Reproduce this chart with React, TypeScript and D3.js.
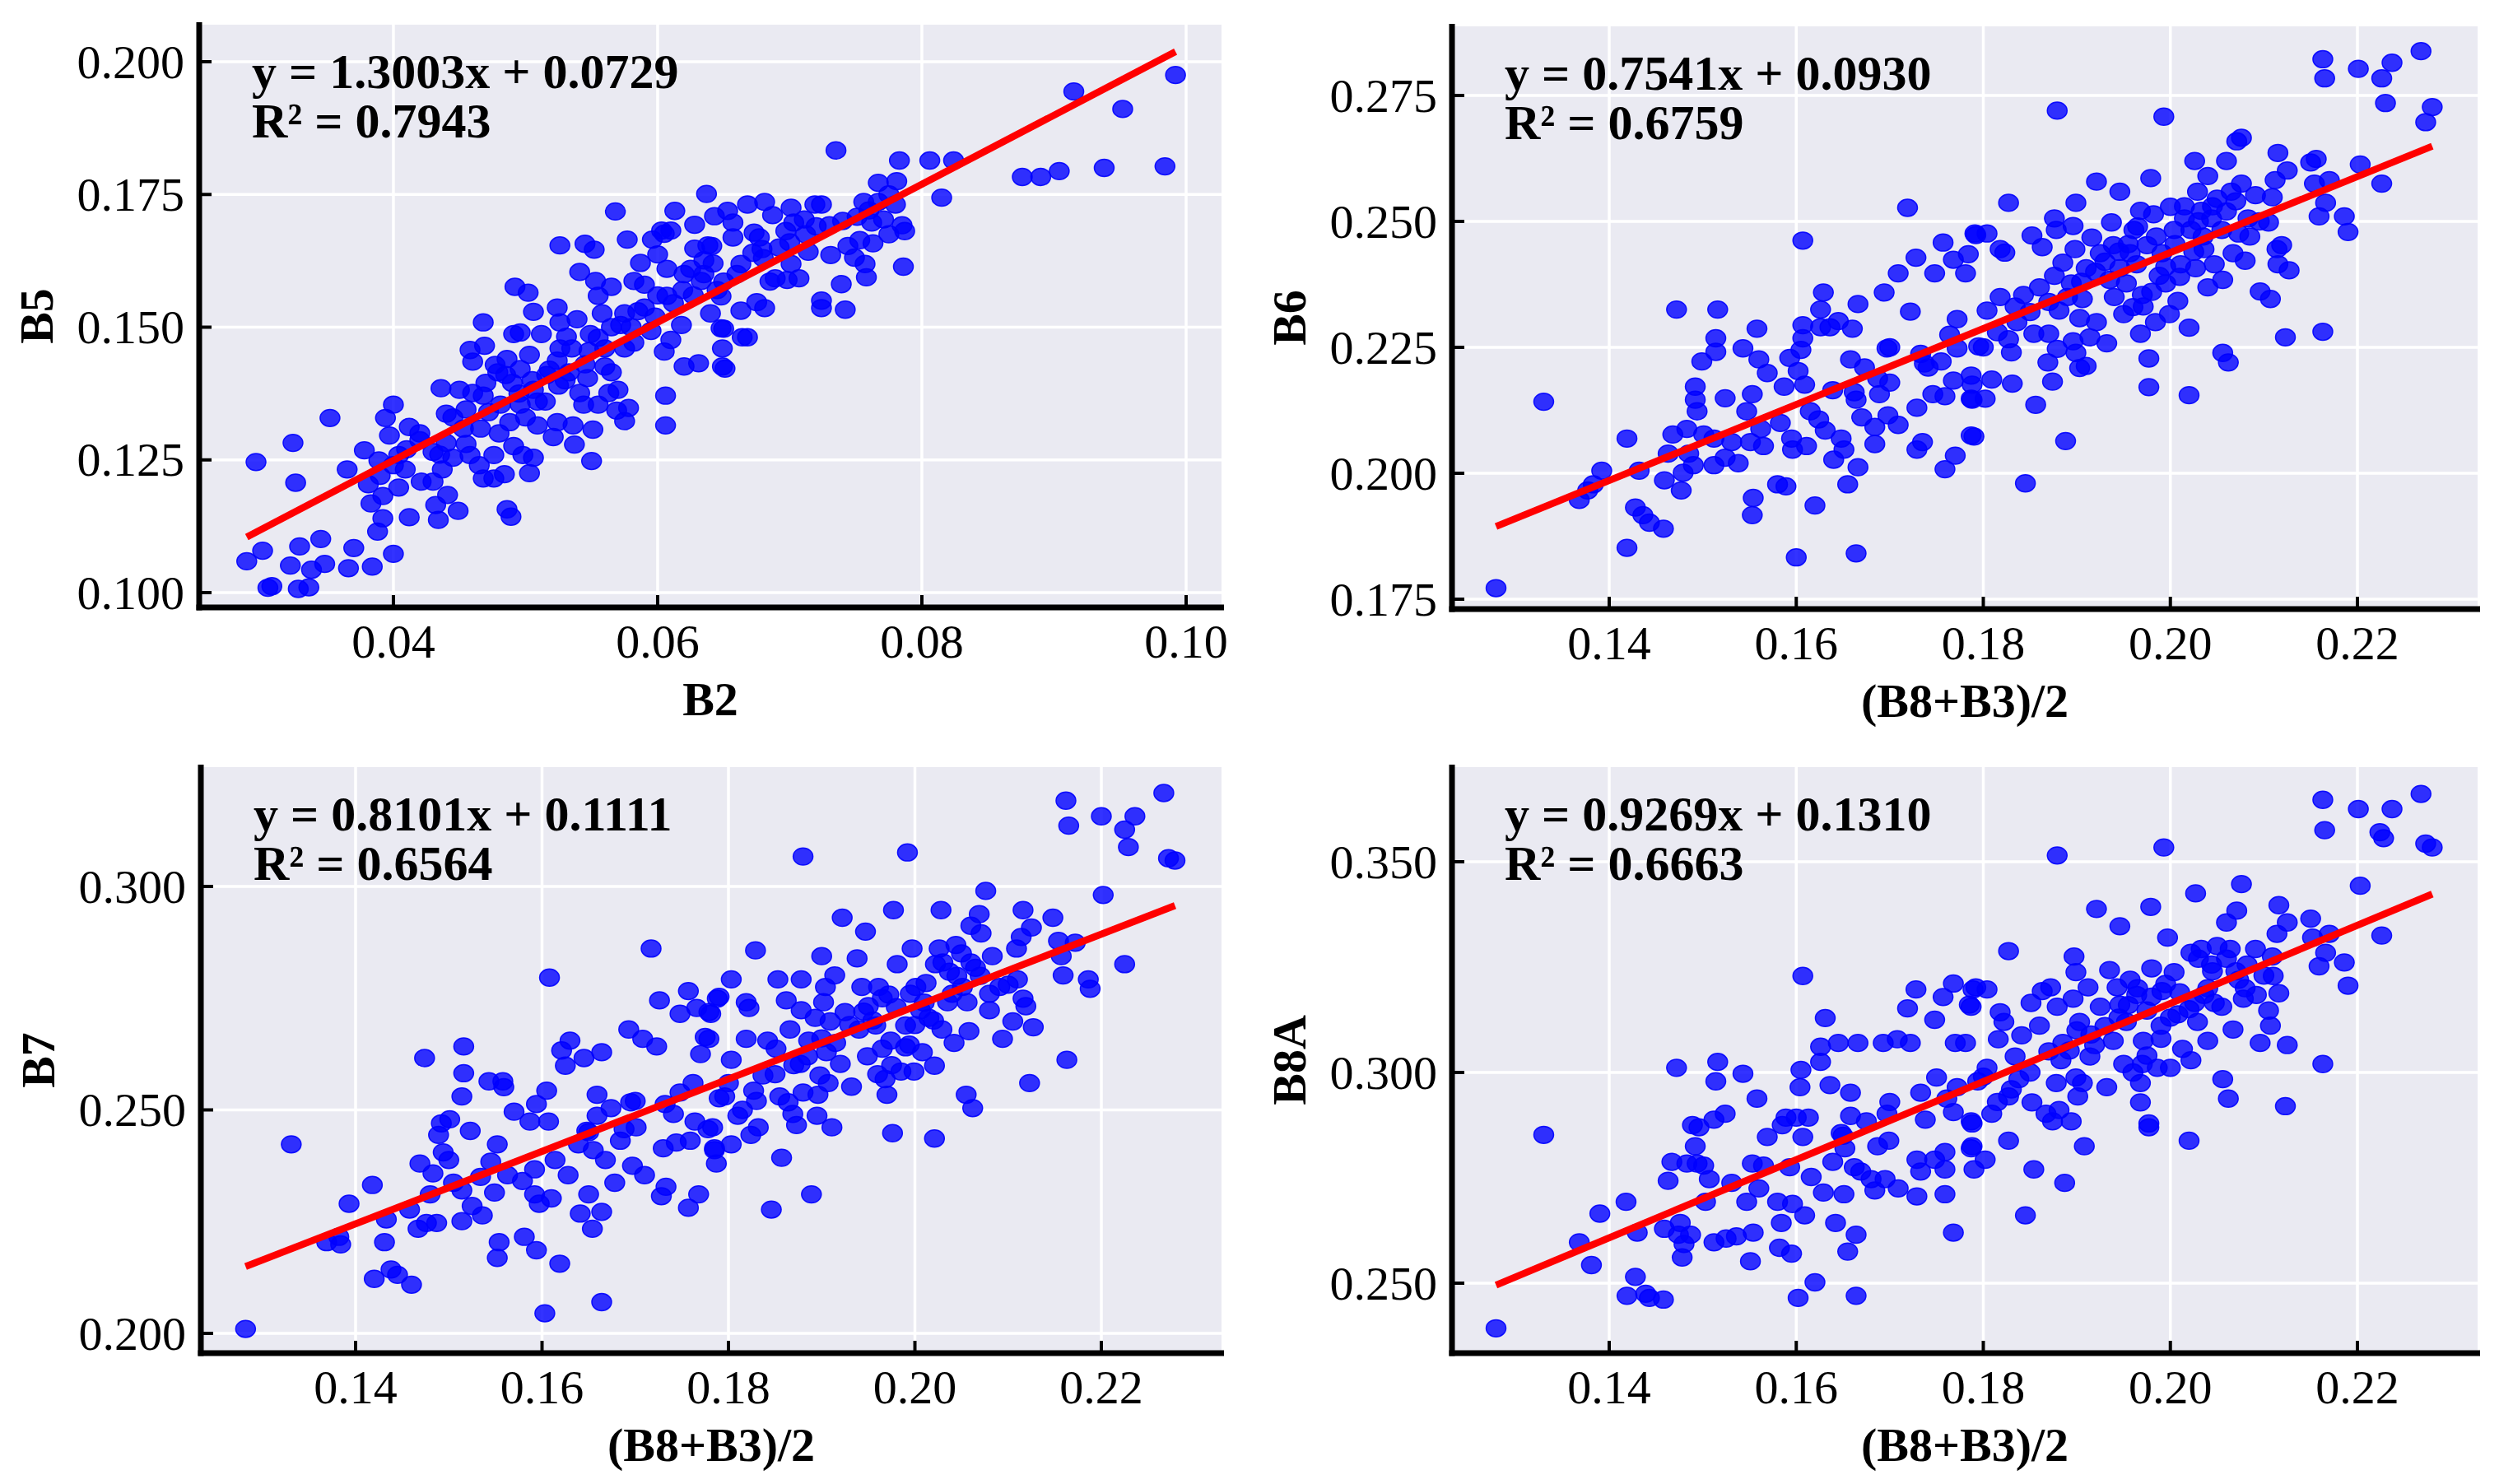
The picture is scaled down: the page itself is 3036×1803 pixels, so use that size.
import React, { useEffect } from 'react';
import * as d3 from 'd3';

type Pt = [number, number];

// B2 vs B5
const b5Points: Pt[] = [
  [0.0289,0.1059],[0.0301,0.1079],[0.0296,0.1246],[0.0305,0.1009],[0.0308,0.1012],[0.0324,0.1282],[0.0326,0.1207],[0.0322,0.1051],
  [0.0329,0.1087],[0.0328,0.1007],[0.0336,0.1010],[0.0338,0.1043],[0.0345,0.1101],[0.0348,0.1054],[0.0352,0.1329],[0.0366,0.1046],
  [0.0370,0.1084],[0.0384,0.1049],[0.0400,0.1073],[0.0365,0.1232],[0.0378,0.1268],[0.0381,0.1204],[0.0389,0.1249],[0.0392,0.1182],
  [0.0383,0.1168],[0.0392,0.1140],[0.0388,0.1115],[0.0404,0.1198],[0.0412,0.1142],[0.0397,0.1296],[0.0394,0.1329],[0.0400,0.1354],
  [0.0404,0.1259],[0.0409,0.1232],[0.0412,0.1312],[0.0420,0.1287],[0.0421,0.1209],[0.0430,0.1209],[0.0430,0.1265],[0.0432,0.1165],
  [0.0434,0.1137],[0.0441,0.1184],[0.0449,0.1154],[0.0437,0.1232],[0.0440,0.1282],[0.0440,0.1337],[0.0436,0.1385],[0.0450,0.1382],
  [0.0460,0.1376],[0.0453,0.1309],[0.0458,0.1259],[0.0445,0.1254],[0.0458,0.1457],[0.0460,0.1435],[0.0468,0.1509],[0.0469,0.1465],
  [0.0468,0.1371],[0.0466,0.1309],[0.0468,0.1215],[0.0476,0.1215],[0.0484,0.1223],[0.0476,0.1259],[0.0477,0.1429],[0.0479,0.1415],
  [0.0486,0.1440],[0.0491,0.1487],[0.0496,0.1490],[0.0492,0.1576],[0.0502,0.1565],[0.0506,0.1529],[0.0481,0.1354],[0.0488,0.1321],
  [0.0496,0.1354],[0.0486,0.1157],[0.0489,0.1143],[0.0491,0.1276],[0.0498,0.1259],[0.0503,0.1225],[0.0506,0.1254],[0.0506,0.1382],
  [0.0509,0.1360],[0.0496,0.1421],[0.0503,0.1448],[0.0512,0.1487],[0.0509,0.1315],[0.0521,0.1293],[0.0524,0.1321],[0.0516,0.1410],
  [0.0524,0.1437],[0.0526,0.1460],[0.0524,0.1537],[0.0526,0.1654],[0.0526,0.1509],[0.0531,0.1482],[0.0533,0.1415],[0.0536,0.1315],
  [0.0537,0.1279],[0.0539,0.1515],[0.0541,0.1604],[0.0545,0.1657],[0.0552,0.1646],[0.0547,0.1404],[0.0541,0.1376],[0.0544,0.1354],
  [0.0549,0.1487],[0.0550,0.1248],[0.0551,0.1307],[0.0553,0.1587],[0.0555,0.1354],[0.0555,0.1559],[0.0558,0.1526],[0.0560,0.1426],
  [0.0563,0.1376],[0.0565,0.1576],[0.0565,0.1415],[0.0568,0.1718],[0.0570,0.1382],[0.0569,0.1343],[0.0575,0.1323],[0.0578,0.1348],
  [0.0572,0.1504],[0.0577,0.1665],[0.0575,0.1526],[0.0582,0.1587],[0.0582,0.1471],[0.0587,0.1621],[0.0590,0.1537],[0.0595,0.1493],
  [0.0596,0.1665],[0.0600,0.1637],[0.0603,0.1682],[0.0605,0.1676],[0.0610,0.1682],[0.0606,0.1371],[0.0606,0.1315],[0.0607,0.1610],
  [0.0607,0.1559],[0.0605,0.1454],[0.0610,0.1476],[0.0613,0.1719],[0.0618,0.1504],[0.0620,0.1426],[0.0619,0.1570],[0.0625,0.1610],
  [0.0628,0.1693],[0.0628,0.1648],[0.0631,0.1432],[0.0633,0.1587],[0.0635,0.1626],[0.0637,0.1751],[0.0638,0.1654],[0.0640,0.1526],
  [0.0643,0.1709],[0.0645,0.1570],[0.0648,0.1498],[0.0649,0.1460],[0.0649,0.1426],
  [0.0653,0.1719],[0.0657,0.1697],[0.0657,0.1669],[0.0641,0.1653],[0.0650,0.1586],[0.0648,0.1558],[0.0650,0.1497],[0.0651,0.1422],
  [0.0664,0.1481],[0.0668,0.1481],[0.0663,0.1531],[0.0663,0.1619],[0.0668,0.1731],[0.0673,0.1678],[0.0675,0.1547],[0.0677,0.1669],
  [0.0681,0.1736],[0.0681,0.1536],[0.0685,0.1586],[0.0687,0.1711],[0.0679,0.1647],[0.0689,0.1592],[0.0697,0.1681],[0.0698,0.1589],
  [0.0701,0.1725],[0.0701,0.1619],[0.0703,0.1697],[0.0707,0.1592],[0.0711,0.1703],[0.0714,0.1642],[0.0719,0.1731],[0.0724,0.1731],
  [0.0724,0.1550],[0.0724,0.1536],[0.0730,0.1692],[0.0731,0.1636],[0.0735,0.1833],[0.0739,0.1581],[0.0742,0.1533],[0.0744,0.1653],
  [0.0749,0.1631],[0.0751,0.1708],[0.0753,0.1664],[0.0756,0.1736],[0.0757,0.1619],[0.0758,0.1594],[0.0762,0.1697],[0.0763,0.1658],
  [0.0767,0.1772],[0.0767,0.1736],[0.0771,0.1703],[0.0775,0.1675],[0.0780,0.1731],[0.0781,0.1775],[0.0783,0.1814],[0.0785,0.1692],
  [0.0786,0.1614],[0.0787,0.1681],[0.0806,0.1814],[0.0815,0.1744],[0.0824,0.1814],[0.0876,0.1783],[0.0890,0.1783],[0.0904,0.1794],
  [0.0915,0.1944],[0.0938,0.1800],[0.0952,0.1911],[0.0984,0.1803],[0.0992,0.1975],
  [0.0445,0.1330],[0.0455,0.1345],[0.0470,0.1395],[0.0480,0.1300],[0.0485,0.1410],[0.0495,0.1375],[0.0505,0.1400],[0.0515,0.1360],
  [0.0525,0.1390],[0.0535,0.1460],[0.0545,0.1430],[0.0555,0.1480],[0.0565,0.1500],[0.0575,0.1460],[0.0585,0.1530],[0.0590,0.1580],
  [0.0600,0.1560],[0.0620,0.1600],[0.0635,0.1600],[0.0660,0.1600],[0.0680,0.1630],[0.0700,0.1660],[0.0720,0.1690],[0.0740,0.1700],
  [0.0760,0.1720],[0.0775,0.1750],[0.0420,0.1300],[0.0435,0.1260],[0.0455,0.1280],[0.0465,0.1240],[0.0410,0.1270],[0.0400,0.1240],
  [0.0390,0.1220],[0.0472,0.1340],[0.0490,0.1395],[0.0500,0.1330],[0.0518,0.1420],[0.0530,0.1400],[0.0548,0.1455],[0.0560,0.1460],
  [0.0580,0.1500],[0.0598,0.1520],[0.0612,0.1545],[0.0627,0.1560],[0.0642,0.1620],[0.0672,0.1640],[0.0692,0.1650],[0.0712,0.1675],
];

// (B8+B3)/2 vs B6
const b6Points: Pt[] = [
  [0.1279,0.1772],[0.1330,0.2142],[0.1368,0.1947],[0.1377,0.1966],[0.1383,0.1978],[0.1392,0.2005],[0.1419,0.2069],[0.1419,0.1852],
  [0.1428,0.1932],[0.1436,0.1917],[0.1443,0.1902],[0.1458,0.1890],[0.1432,0.2005],[0.1459,0.1986],[0.1463,0.2039],[0.1468,0.2077],
  [0.1472,0.2325],[0.1477,0.1966],[0.1479,0.2001],[0.1483,0.2088],[0.1485,0.2039],[0.1490,0.2016],[0.1492,0.2172],[0.1492,0.2146],
  [0.1494,0.2123],[0.1499,0.2222],[0.1501,0.2077],[0.1512,0.2069],[0.1514,0.2241],[0.1514,0.2268],[0.1516,0.2325],[0.1512,0.2016],
  [0.1524,0.2031],[0.1524,0.2149],[0.1531,0.2062],[0.1538,0.2020],[0.1543,0.2248],[0.1547,0.2123],[0.1551,0.2062],[0.1553,0.2157],
  [0.1553,0.1917],[0.1554,0.1951],[0.1558,0.2287],[0.1560,0.2226],[0.1562,0.2088],[0.1565,0.2054],[0.1569,0.2199],[0.1580,0.1978],
  [0.1583,0.2100],[0.1587,0.2172],[0.1589,0.1974],[0.1593,0.2229],[0.1595,0.2069],[0.1596,0.2047],[0.1600,0.1833],[0.1602,0.2203],
  [0.1605,0.2245],[0.1607,0.2294],[0.1607,0.2462],[0.1607,0.2268],[0.1609,0.2176],[0.1611,0.2054],[0.1615,0.2123],[0.1620,0.1936],
  [0.1624,0.2107],[0.1626,0.2290],[0.1626,0.2325],[0.1629,0.2359],[0.1631,0.2085],[0.1636,0.2290],[0.1639,0.2165],[0.1640,0.2027],
  [0.1645,0.2302],[0.1648,0.2069],[0.1651,0.2047],[0.1655,0.1978],[0.1658,0.2226],[0.1660,0.2287],[0.1662,0.2161],[0.1664,0.2146],
  [0.1664,0.1841],[0.1666,0.2336],[0.1666,0.2012],[0.1670,0.2111],[0.1673,0.2210],[0.1684,0.2092],[0.1684,0.2058],[0.1687,0.2188],
  [0.1689,0.2157],[0.1694,0.2359],[0.1697,0.2248],[0.1698,0.2115],[0.1700,0.2180],[0.1709,0.2397],[0.1709,0.2096],[0.1719,0.2527],
  [0.1722,0.2321],[0.1728,0.2428],[0.1729,0.2130],[0.1729,0.2047],[0.1733,0.2237],[0.1735,0.2062],[0.1737,0.2218],[0.1741,0.2210],
  [0.1746,0.2157],[0.1748,0.2397],[0.1755,0.2222],[0.1757,0.2458],[0.1759,0.2008],[0.1759,0.2153],[0.1764,0.2275],[0.1768,0.2184],
  [0.1768,0.2424],[0.1770,0.2035],[0.1772,0.2306],[0.1772,0.2248],[0.1781,0.2397],[0.1784,0.2435],[0.1788,0.2176],[0.1788,0.2146],
  [0.1792,0.2473],[0.1790,0.2073],[0.1795,0.2252],
  [0.1791,0.2476],[0.1804,0.2476],[0.1787,0.2194],[0.1804,0.2323],[0.1787,0.2148],[0.1802,0.2148],[0.1787,0.2075],[0.1809,0.2186],
  [0.1818,0.2350],[0.1818,0.2445],[0.1823,0.2438],[0.1827,0.2537],[0.1827,0.2266],[0.1831,0.2178],[0.1836,0.2300],[0.1834,0.2331],
  [0.1843,0.2354],[0.1845,0.1980],[0.1852,0.2472],[0.1854,0.2277],[0.1856,0.2136],[0.1860,0.2369],[0.1863,0.2449],[0.1869,0.2220],
  [0.1870,0.2277],[0.1874,0.2182],[0.1876,0.2392],[0.1876,0.2506],[0.1878,0.2483],[0.1879,0.2247],[0.1879,0.2720],[0.1881,0.2323],
  [0.1885,0.2418],[0.1888,0.2064],[0.1894,0.2377],[0.1896,0.2262],[0.1896,0.2491],[0.1898,0.2445],[0.1899,0.2537],[0.1899,0.2239],
  [0.1903,0.2308],[0.1903,0.2209],[0.1906,0.2346],[0.1910,0.2407],[0.1910,0.2213],[0.1914,0.2270],[0.1916,0.2468],[0.1921,0.2300],
  [0.1921,0.2579],[0.1925,0.2437],[0.1932,0.2258],[0.1935,0.2384],[0.1937,0.2498],[0.1939,0.2453],[0.1946,0.2559],[0.1946,0.2407],
  [0.1950,0.2316],[0.1953,0.2377],[0.1957,0.2437],[0.1961,0.2483],[0.1964,0.2415],[0.1968,0.2521],[0.1968,0.2277],[0.1970,0.2354],
  [0.1971,0.2331],[0.1975,0.2453],[0.1977,0.2171],[0.1977,0.2228],[0.1979,0.2586],[0.1982,0.2514],[0.1984,0.2300],[0.1988,0.2392],
  [0.1991,0.2437],[0.1993,0.2708],[0.1995,0.2377],[0.1999,0.2316],[0.2000,0.2529],[0.2004,0.2483],[0.2008,0.2342],[0.2011,0.2415],
  [0.2015,0.2506],[0.2020,0.2289],[0.2020,0.2155],[0.2022,0.2483],[0.2026,0.2620],[0.2027,0.2407],[0.2029,0.2559],[0.2033,0.2521],
  [0.2036,0.2445],[0.2040,0.2590],[0.2040,0.2369],[0.2044,0.2506],[0.2047,0.2415],[0.2055,0.2483],[0.2056,0.2384],[0.2056,0.2239],
  [0.2060,0.2620],[0.2062,0.2220],[0.2065,0.2559],[0.2067,0.2437],[0.2071,0.2659],[0.2076,0.2666],[0.2073,0.2476],[0.2076,0.2575],
  [0.2080,0.2422],[0.2083,0.2506],[0.2091,0.2552],[0.2096,0.2361],[0.2105,0.2498],[0.2107,0.2346],[0.2109,0.2548],[0.2112,0.2582],
  [0.2114,0.2445],[0.2115,0.2636],[0.2115,0.2415],[0.2119,0.2453],[0.2123,0.2270],[0.2125,0.2601],[0.2127,0.2403],[0.2150,0.2617],
  [0.2156,0.2624],[0.2154,0.2575],[0.2159,0.2510],[0.2163,0.2281],[0.2163,0.2822],[0.2165,0.2784],[0.2166,0.2537],[0.2170,0.2582],
  [0.2186,0.2510],[0.2190,0.2479],[0.2201,0.2803],[0.2203,0.2613],[0.2226,0.2784],[0.2226,0.2575],[0.2230,0.2735],[0.2237,0.2815],
  [0.2268,0.2838],[0.2273,0.2697],[0.2280,0.2727],
  [0.2015,0.2530],[0.2030,0.2500],[0.2045,0.2530],[0.2050,0.2545],[0.2060,0.2520],[0.2070,0.2540],[0.2035,0.2470],[0.2005,0.2455],
  [0.1985,0.2470],[0.1965,0.2490],[0.1955,0.2455],[0.1945,0.2440],[0.1930,0.2420],[0.1920,0.2400],[0.1905,0.2380],[0.1890,0.2350],
  [0.1870,0.2340],[0.1850,0.2320],[0.1995,0.2410],[0.2010,0.2390],[0.2025,0.2440],[0.2085,0.2470],[0.2095,0.2500],[0.1980,0.2360],
  [0.1960,0.2330],[0.1940,0.2350],[0.1830,0.2240],[0.1815,0.2280],[0.1800,0.2250],[0.1700,0.2250],
];

// (B8+B3)/2 vs B7
const b7Points: Pt[] = [
  [0.1282,0.2010],[0.1331,0.2423],[0.1369,0.2204],[0.1384,0.2199],[0.1382,0.2216],[0.1393,0.2290],[0.1418,0.2332],[0.1420,0.2122],
  [0.1431,0.2204],[0.1433,0.2255],[0.1438,0.2143],[0.1445,0.2131],[0.1460,0.2109],[0.1458,0.2277],[0.1469,0.2380],[0.1467,0.2234],
  [0.1474,0.2616],[0.1476,0.2247],[0.1480,0.2311],[0.1483,0.2358],[0.1487,0.2247],[0.1489,0.2444],[0.1492,0.2470],[0.1494,0.2405],
  [0.1500,0.2388],[0.1501,0.2479],[0.1505,0.2337],[0.1514,0.2251],[0.1516,0.2642],[0.1516,0.2582],[0.1514,0.2530],[0.1514,0.2320],
  [0.1523,0.2453],[0.1525,0.2285],[0.1536,0.2264],[0.1534,0.2350],[0.1543,0.2564],[0.1549,0.2315],[0.1552,0.2423],[0.1554,0.2204],
  [0.1552,0.2169],[0.1558,0.2564],[0.1559,0.2551],[0.1545,0.2384],[0.1563,0.2354],[0.1570,0.2496],[0.1579,0.2341],[0.1581,0.2216],
  [0.1587,0.2474],[0.1592,0.2367],[0.1592,0.2311],[0.1594,0.2513],[0.1594,0.2186],[0.1597,0.2290],[0.1603,0.2045],[0.1605,0.2543],
  [0.1607,0.2474],[0.1608,0.2796],[0.1610,0.2302],[0.1614,0.2388],[0.1619,0.2156],[0.1621,0.2633],[0.1625,0.2599],[0.1628,0.2354],
  [0.1630,0.2655],[0.1639,0.2423],[0.1641,0.2268],[0.1645,0.2616],[0.1648,0.2453],[0.1650,0.2311],[0.1654,0.2234],[0.1655,0.2410],
  [0.1659,0.2534],[0.1659,0.2487],[0.1664,0.2272],[0.1664,0.2629],[0.1664,0.2070],[0.1668,0.2388],[0.1674,0.2504],[0.1678,0.2337],
  [0.1684,0.2431],[0.1688,0.2457],[0.1693,0.2680],[0.1695,0.2517],[0.1697,0.2375],[0.1701,0.2461],[0.1708,0.2659],[0.1710,0.2354],
  [0.1717,0.2861],[0.1723,0.2642],[0.1726,0.2745],[0.1728,0.2307],[0.1730,0.2414],[0.1732,0.2513],[0.1733,0.2328],[0.1741,0.2491],
  [0.1744,0.2427],[0.1748,0.2715],[0.1748,0.2539],[0.1757,0.2281],[0.1757,0.2766],[0.1759,0.2431],[0.1762,0.2560],[0.1764,0.2474],
  [0.1766,0.2728],[0.1768,0.2311],[0.1770,0.2625],[0.1775,0.2663],[0.1779,0.2719],[0.1783,0.2461],[0.1785,0.2410],[0.1787,0.2380],
  [0.1788,0.2749],[0.1790,0.2526],
  [0.1781,0.2715],[0.1790,0.2753],[0.1779,0.2659],[0.1803,0.2792],[0.1778,0.2457],[0.1785,0.2414],[0.1796,0.2530],[0.1803,0.2612],
  [0.1803,0.2423],[0.1810,0.2487],[0.1819,0.2659],[0.1819,0.2741],[0.1822,0.2728],[0.1824,0.2444],[0.1827,0.2543],[0.1829,0.2857],
  [0.1832,0.2461],[0.1837,0.2577],[0.1842,0.2655],[0.1846,0.2277],[0.1851,0.2637],[0.1853,0.2792],[0.1855,0.2530],[0.1857,0.2393],
  [0.1862,0.2745],[0.1864,0.2517],[0.1866,0.2680],[0.1869,0.2491],[0.1873,0.2466],[0.1877,0.2603],[0.1878,0.2723],[0.1878,0.2792],
  [0.1880,0.2539],[0.1880,0.3067],[0.1886,0.2655],[0.1889,0.2311],[0.1893,0.2706],[0.1895,0.2487],[0.1896,0.2534],[0.1898,0.2577],
  [0.1900,0.2844],[0.1902,0.2741],[0.1904,0.2775],[0.1905,0.2629],[0.1907,0.2560],[0.1909,0.2698],[0.1911,0.2461],[0.1914,0.2801],
  [0.1920,0.2603],[0.1922,0.2930],[0.1925,0.2719],[0.1932,0.2552],[0.1938,0.2839],[0.1940,0.2680],[0.1943,0.2775],[0.1947,0.2899],
  [0.1949,0.2620],[0.1950,0.2732],[0.1958,0.2689],[0.1961,0.2775],[0.1965,0.2637],[0.1968,0.2569],[0.1970,0.2534],[0.1972,0.2758],
  [0.1974,0.2655],[0.1976,0.2448],[0.1977,0.2947],[0.1981,0.2826],[0.1985,0.2586],[0.1990,0.2689],[0.1992,0.3076],[0.1994,0.2646],
  [0.1997,0.2861],[0.1999,0.2586],[0.2001,0.2775],[0.2006,0.2723],[0.2008,0.2629],[0.2012,0.2784],[0.2015,0.2706],[0.2021,0.2599],
  [0.2021,0.2436],[0.2022,0.2826],[0.2026,0.2861],[0.2028,0.2947],[0.2029,0.2680],[0.2035,0.2741],[0.2037,0.2809],[0.2042,0.2650],
  [0.2044,0.2869],[0.2051,0.2775],[0.2055,0.2534],[0.2056,0.2741],[0.2058,0.2676],[0.2060,0.2912],[0.2062,0.2504],[0.2065,0.2818],
  [0.2069,0.2938],[0.2071,0.2895],[0.2076,0.2990],[0.2080,0.2723],[0.2083,0.2844],[0.2091,0.2775],[0.2094,0.2659],[0.2105,0.2698],
  [0.2109,0.2861],[0.2110,0.2792],[0.2114,0.2887],[0.2116,0.2947],[0.2116,0.2749],[0.2119,0.2732],[0.2123,0.2560],[0.2125,0.2908],
  [0.2127,0.2685],[0.2148,0.2930],[0.2154,0.2878],[0.2157,0.2844],[0.2159,0.2801],[0.2163,0.2612],[0.2162,0.3192],[0.2165,0.3136],
  [0.2172,0.2874],[0.2186,0.2792],[0.2188,0.2771],[0.2200,0.3157],[0.2202,0.2981],[0.2225,0.3127],[0.2229,0.3088],[0.2225,0.2826],
  [0.2236,0.3157],[0.2267,0.3209],[0.2272,0.3063],[0.2279,0.3058],
  [0.2030,0.2830],[0.2045,0.2800],[0.2060,0.2830],[0.2070,0.2800],[0.2050,0.2850],[0.2040,0.2760],[0.2010,0.2740],[0.1995,0.2760],
  [0.1980,0.2730],[0.1965,0.2750],[0.1955,0.2700],[0.1945,0.2720],[0.1930,0.2690],[0.1915,0.2650],[0.1900,0.2660],[0.1885,0.2620],
  [0.1870,0.2600],[0.1850,0.2580],[0.1990,0.2640],[0.2000,0.2690],[0.2020,0.2700],[0.2080,0.2760],[0.2100,0.2780],[0.1975,0.2600],
  [0.1960,0.2580],[0.1830,0.2520],[0.1815,0.2500],[0.1800,0.2560],[0.1700,0.2520],[0.1650,0.2450],
];

// (B8+B3)/2 vs B8A
const b8aPoints: Pt[] = [
  [0.1279,0.2393],[0.1330,0.2852],[0.1368,0.2597],[0.1381,0.2543],[0.1390,0.2665],[0.1418,0.2693],[0.1419,0.2470],[0.1428,0.2515],
  [0.1430,0.2620],[0.1439,0.2475],[0.1443,0.2465],[0.1458,0.2461],[0.1459,0.2629],[0.1463,0.2743],[0.1467,0.2788],[0.1472,0.3011],
  [0.1474,0.2615],[0.1476,0.2643],[0.1478,0.2561],[0.1480,0.2593],[0.1483,0.2784],[0.1487,0.2615],[0.1489,0.2875],[0.1492,0.2825],
  [0.1494,0.2784],[0.1496,0.2870],[0.1501,0.2779],[0.1503,0.2693],[0.1507,0.2747],[0.1512,0.2888],[0.1512,0.2597],[0.1514,0.2979],
  [0.1516,0.3025],[0.1524,0.2902],[0.1525,0.2606],[0.1531,0.2738],[0.1536,0.2611],[0.1543,0.2997],[0.1547,0.2693],[0.1551,0.2552],
  [0.1553,0.2784],[0.1554,0.2620],[0.1558,0.2938],[0.1560,0.2725],[0.1565,0.2779],[0.1569,0.2847],[0.1580,0.2693],[0.1582,0.2584],
  [0.1584,0.2643],[0.1585,0.2875],[0.1589,0.2893],[0.1593,0.2775],[0.1595,0.2570],[0.1596,0.2688],[0.1600,0.2893],[0.1602,0.2465],
  [0.1604,0.2965],[0.1605,0.3006],[0.1607,0.3229],[0.1607,0.2847],[0.1609,0.2661],[0.1613,0.2893],[0.1616,0.2752],[0.1620,0.2502],
  [0.1626,0.3025],[0.1626,0.3061],[0.1629,0.2715],[0.1631,0.3129],[0.1636,0.2970],[0.1639,0.2788],[0.1642,0.2643],[0.1645,0.3070],
  [0.1648,0.2856],[0.1651,0.2711],[0.1652,0.2820],[0.1655,0.2575],[0.1658,0.2952],[0.1658,0.2897],[0.1662,0.2775],[0.1664,0.2615],
  [0.1664,0.2470],[0.1666,0.3070],[0.1669,0.2765],[0.1675,0.2884],[0.1680,0.2747],[0.1684,0.2720],[0.1687,0.2825],[0.1693,0.3070],
  [0.1695,0.2747],[0.1697,0.2902],[0.1699,0.2838],[0.1708,0.3079],[0.1709,0.2725],[0.1719,0.3152],[0.1722,0.3070],[0.1728,0.3197],
  [0.1729,0.2706],[0.1729,0.2793],[0.1733,0.2952],[0.1733,0.2765],[0.1738,0.2888],[0.1748,0.2793],[0.1748,0.3125],[0.1750,0.2988],
  [0.1757,0.3179],[0.1759,0.2711],[0.1759,0.2811],[0.1759,0.2770],[0.1761,0.2938],[0.1768,0.3211],[0.1768,0.2620],[0.1768,0.2906],
  [0.1770,0.3070],[0.1772,0.2965],[0.1781,0.3070],[0.1785,0.3161],[0.1788,0.2879],[0.1788,0.2825],[0.1790,0.2770],[0.1792,0.3202],
  [0.1789,0.3197],[0.1804,0.3197],[0.1787,0.3156],[0.1787,0.2884],[0.1794,0.2979],[0.1804,0.3011],[0.1787,0.2820],[0.1802,0.2793],
  [0.1809,0.2902],[0.1816,0.3079],[0.1818,0.3143],[0.1822,0.3120],[0.1827,0.3288],[0.1827,0.2943],[0.1827,0.2838],[0.1834,0.3038],
  [0.1838,0.2984],[0.1841,0.3088],[0.1845,0.2661],[0.1851,0.3165],[0.1852,0.2929],[0.1854,0.2770],[0.1860,0.3111],[0.1863,0.3193],
  [0.1867,0.2902],[0.1872,0.3202],[0.1874,0.2884],[0.1878,0.2975],[0.1879,0.3515],[0.1879,0.3156],[0.1881,0.2911],[0.1883,0.3029],
  [0.1887,0.2738],[0.1892,0.3052],[0.1894,0.2884],[0.1896,0.3175],[0.1897,0.3275],[0.1899,0.3238],[0.1899,0.2988],[0.1901,0.2943],
  [0.1903,0.3120],[0.1906,0.2975],[0.1908,0.2825],[0.1912,0.3202],[0.1914,0.3038],[0.1919,0.3065],[0.1921,0.3388],[0.1925,0.3156],
  [0.1932,0.2965],[0.1935,0.3243],[0.1939,0.3075],[0.1943,0.3202],[0.1946,0.3347],[0.1946,0.3161],[0.1950,0.3020],[0.1953,0.3120],
  [0.1957,0.3220],[0.1964,0.3184],[0.1968,0.2929],[0.1968,0.2975],[0.1970,0.3020],[0.1971,0.3075],[0.1975,0.3147],[0.1977,0.2879],
  [0.1977,0.2870],[0.1979,0.3393],[0.1980,0.3247],[0.1986,0.3011],[0.1990,0.3111],[0.1991,0.3193],[0.1993,0.3534],[0.1997,0.3320],
  [0.2000,0.3011],[0.2004,0.3238],[0.2008,0.3138],[0.2013,0.3056],[0.2020,0.2838],[0.2022,0.3029],[0.2022,0.3284],[0.2026,0.3165],
  [0.2027,0.3425],[0.2029,0.3120],[0.2033,0.3293],[0.2036,0.3184],[0.2040,0.3075],[0.2044,0.3256],[0.2047,0.3165],[0.2055,0.3156],
  [0.2056,0.2984],[0.2060,0.3356],[0.2062,0.2938],[0.2064,0.3293],[0.2067,0.3102],[0.2071,0.3384],[0.2073,0.3220],[0.2076,0.3447],
  [0.2078,0.3175],[0.2082,0.3256],[0.2091,0.3293],[0.2092,0.3184],[0.2096,0.3070],[0.2105,0.3147],[0.2107,0.3111],[0.2109,0.3275],
  [0.2110,0.3229],[0.2114,0.3329],[0.2116,0.3397],[0.2116,0.3188],[0.2123,0.2920],[0.2125,0.3356],[0.2125,0.3065],[0.2150,0.3365],
  [0.2152,0.3320],[0.2159,0.3252],[0.2163,0.3020],[0.2163,0.3647],[0.2165,0.3575],[0.2166,0.3284],[0.2170,0.3329],[0.2186,0.3261],
  [0.2190,0.3206],[0.2201,0.3625],[0.2203,0.3443],[0.2224,0.3570],[0.2228,0.3556],[0.2226,0.3325],[0.2237,0.3625],[0.2268,0.3661],
  [0.2273,0.3543],[0.2280,0.3534],
  [0.2030,0.3270],[0.2045,0.3240],[0.2060,0.3270],[0.2070,0.3240],[0.2050,0.3300],[0.2040,0.3200],[0.2010,0.3190],[0.1995,0.3210],
  [0.1980,0.3180],[0.1965,0.3200],[0.1955,0.3160],[0.1945,0.3130],[0.1930,0.3110],[0.1915,0.3090],[0.1900,0.3100],[0.1885,0.3070],
  [0.1870,0.3050],[0.1850,0.3000],[0.1990,0.3080],[0.2000,0.3130],[0.2020,0.3150],[0.2080,0.3200],[0.2100,0.3230],[0.1975,0.3040],
  [0.1960,0.3000],[0.1830,0.2960],[0.1815,0.2930],[0.1800,0.2990],[0.1700,0.2930],[0.1650,0.2850],
];

const xTicksB2 = [0.04, 0.06, 0.08, 0.10];
const xTicksMix = [0.14, 0.16, 0.18, 0.20, 0.22];
const yTicksB5 = [0.100, 0.125, 0.150, 0.175, 0.200];
const yTicksB6 = [0.175, 0.200, 0.225, 0.250, 0.275];
const yTicksB7 = [0.200, 0.250, 0.300];
const yTicksB8A = [0.250, 0.300, 0.350];

const slopes = [1.3003, 0.7541, 0.8101, 0.9269];
const intercepts = [0.0729, 0.0930, 0.1111, 0.1310];
const r2Values = ['0.7943', '0.6759', '0.6564', '0.6663'];

const SERIF = "'Liberation Serif', 'Times New Roman', Times, serif";
const FS_TICK = 58;
const FS_EQ = 60;
const FS_LABEL = 58;

interface PanelProps {
  box: { left: number; right: number; top: number; bottom: number };
  xDomain: [number, number];
  yDomain: [number, number];
  points: Pt[];
  xTicks: number[];
  yTicks: number[];
  xLabel: string;
  yLabel: string;
  slope: number;
  intercept: number;
  r2: string;
}

const Panel: React.FC<PanelProps> = ({ box, xDomain, yDomain, points, xTicks, yTicks, xLabel, yLabel, slope, intercept, r2 }) => {
  const x = d3.scaleLinear().domain(xDomain).range([box.left, box.right]);
  const y = d3.scaleLinear().domain(yDomain).range([box.bottom, box.top]);
  const fx = d3.format('.2f');
  const fy = d3.format('.3f');
  const [x0, x1] = d3.extent(points, (d) => d[0]) as [number, number];
  const line = d3.line<number>().x((v) => x(v)).y((v) => y(slope * v + intercept));
  const eq = `y = ${slope.toFixed(4)}x + ${intercept.toFixed(4)}`;
  const spine = 7;
  const tickLen = 15;
  const midX = (box.left + box.right) / 2;
  const midY = (box.top + box.bottom) / 2;

  return (
    <g>
      <rect x={box.left} y={box.top} width={box.right - box.left} height={box.bottom - box.top} fill="#EAEAF2" />
      {xTicks.map((t) => (
        <line key={'gx' + t} x1={x(t)} x2={x(t)} y1={box.top} y2={box.bottom} stroke="#fff" strokeWidth={3.5} />
      ))}
      {yTicks.map((t) => (
        <line key={'gy' + t} x1={box.left} x2={box.right} y1={y(t)} y2={y(t)} stroke="#fff" strokeWidth={3.5} />
      ))}
      <g>
        {points.map((d, i) => (
          <ellipse key={i} cx={x(d[0])} cy={y(d[1])} rx={12} ry={10.4}
            fill="#0000FF" fillOpacity={0.8} stroke="#0000FF" strokeOpacity={0.9} strokeWidth={1.5} />
        ))}
      </g>
      <path d={line([x0, x1]) || ''} stroke="#FF0000" strokeWidth={8.5} fill="none" />
      {/* ticks point inward */}
      {xTicks.map((t) => (
        <line key={'tx' + t} x1={x(t)} x2={x(t)} y1={box.bottom} y2={box.bottom - tickLen} stroke="#000" strokeWidth={4} />
      ))}
      {yTicks.map((t) => (
        <line key={'ty' + t} x1={box.left} x2={box.left + tickLen} y1={y(t)} y2={y(t)} stroke="#000" strokeWidth={4} />
      ))}
      <line x1={box.left} x2={box.left} y1={box.top - 3} y2={box.bottom + spine / 2} stroke="#000" strokeWidth={spine} />
      <line x1={box.left - spine / 2} x2={box.right + 3} y1={box.bottom} y2={box.bottom} stroke="#000" strokeWidth={spine} />
      {xTicks.map((t) => (
        <text key={'lx' + t} x={x(t)} y={box.bottom + 61} textAnchor="middle" fontFamily={SERIF} fontSize={FS_TICK} fill="#000">
          {fx(t)}
        </text>
      ))}
      {yTicks.map((t) => (
        <text key={'ly' + t} x={box.left - 18} y={y(t)} dy="0.34em" textAnchor="end" fontFamily={SERIF} fontSize={FS_TICK} fill="#000">
          {fy(t)}
        </text>
      ))}
      <text x={midX} y={box.bottom + 131} textAnchor="middle" fontFamily={SERIF} fontWeight="bold" fontSize={FS_LABEL} fill="#000">
        {xLabel}
      </text>
      <text transform={`translate(${box.left - 178},${midY}) rotate(-90)`} textAnchor="middle" fontFamily={SERIF}
        fontWeight="bold" fontSize={FS_LABEL} fill="#000">
        {yLabel}
      </text>
      <text x={box.left + 64} y={box.top + 77} fontFamily={SERIF} fontWeight="bold" fontSize={FS_EQ} fill="#000">{eq}</text>
      <text x={box.left + 64} y={box.top + 137} fontFamily={SERIF} fontWeight="bold" fontSize={FS_EQ} fill="#000">{`R² = ${r2}`}</text>
    </g>
  );
};

const App: React.FC = () => {
  useEffect(() => {
    document.body.style.margin = '0';
    document.body.style.overflow = 'hidden';
  }, []);

  const W = 3036;
  const H = 1803;
  const mixLabel = '(B8+B3)/2';

  return (
    <svg width={W} height={H} viewBox={`0 0 ${W} ${H}`} style={{ display: 'block', position: 'absolute', left: 0, top: 0, background: '#fff' }}>
      <Panel box={{ left: 242, right: 1484, top: 30, bottom: 738 }} xDomain={[0.0253, 0.10268]} yDomain={[0.09721, 0.20698]}
        points={b5Points} xTicks={xTicksB2} yTicks={yTicksB5} xLabel="B2" yLabel="B5"
        slope={slopes[0]} intercept={intercepts[0]} r2={r2Values[0]} />
      <Panel box={{ left: 1764, right: 3010, top: 32, bottom: 740 }} xDomain={[0.12319, 0.23285]} yDomain={[0.17304, 0.28873]}
        points={b6Points} xTicks={xTicksMix} yTicks={yTicksB6} xLabel={mixLabel} yLabel="B6"
        slope={slopes[1]} intercept={intercepts[1]} r2={r2Values[1]} />
      <Panel box={{ left: 244, right: 1484, top: 932, bottom: 1644 }} xDomain={[0.1234, 0.23289]} yDomain={[0.19558, 0.3267]}
        points={b7Points} xTicks={xTicksMix} yTicks={yTicksB7} xLabel={mixLabel} yLabel="B7"
        slope={slopes[2]} intercept={intercepts[2]} r2={r2Values[2]} />
      <Panel box={{ left: 1764, right: 3010, top: 932, bottom: 1644 }} xDomain={[0.12319, 0.23285]} yDomain={[0.2334, 0.37246]}
        points={b8aPoints} xTicks={xTicksMix} yTicks={yTicksB8A} xLabel={mixLabel} yLabel="B8A"
        slope={slopes[3]} intercept={intercepts[3]} r2={r2Values[3]} />
    </svg>
  );
};

export default App;
